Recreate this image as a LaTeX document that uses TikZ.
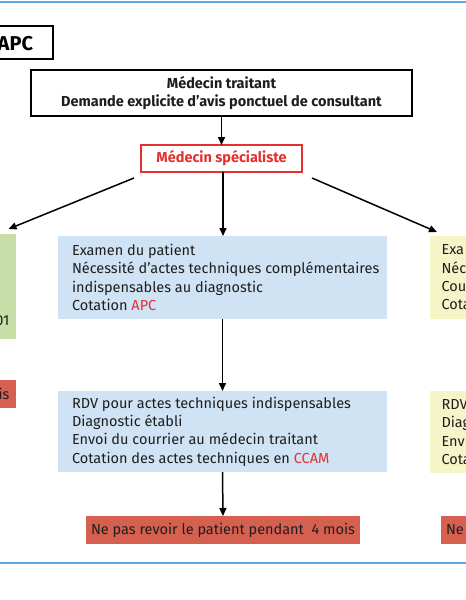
\documentclass[tikz,border=0pt]{standalone}
\usepackage{fontspec}
\setmainfont{Fira Sans}
\usetikzlibrary{arrows.meta,calc}
\definecolor{txt}{RGB}{30,30,30}
\definecolor{redtxt}{RGB}{228,48,48}
\definecolor{bluefill}{RGB}{207,227,245}
\definecolor{greenfill}{RGB}{200,222,168}
\definecolor{yellowfill}{RGB}{245,245,200}
\definecolor{redfill}{RGB}{213,96,80}
\definecolor{rule}{RGB}{100,165,230}
\tikzset{
  base/.style={inner sep=0pt, outer sep=0pt, text=txt, font=\fontsize{14.5}{18.3}\selectfont},
  blackbox/.style={base, draw=black, line width=1.6pt, font=\bfseries\fontsize{14.5}{18}\selectfont, align=center},
  redbox/.style={base, draw=redtxt, line width=1.6pt, text=redtxt, font=\bfseries\fontsize{14.5}{18}\selectfont},
  infobox/.style={base, align=left, inner xsep=14pt},
  arr/.style={line width=1.5pt, -{Triangle[length=8pt,width=7pt]}}
}
\begin{document}
\begin{tikzpicture}[x=1pt,y=-1pt]
\useasboundingbox (0,0) rectangle (466,600);
\fill[white] (0,0) rectangle (466,600);
% rules
\draw[rule, line width=2pt] (0,2) -- (466,2);
\draw[rule, line width=2pt] (0,562.5) -- (466,562.5);
% APC box
\node[blackbox, minimum width=60pt, minimum height=33pt] (apc) at (23,42.5) {};
\node[base, anchor=base east, font=\bfseries\fontsize{20}{22}\selectfont, text=black] (apct) at (33,50.5) {APC};
% top box
\node[blackbox, minimum width=381pt, minimum height=46pt] (mt) at (221.5,93)
  {Médecin traitant\\Demande explicite d’avis ponctuel de consultant};
% specialist
\node[redbox, minimum width=161pt, minimum height=27pt] (spec) at (221.5,158.5) {Médecin spécialiste};
% center column
\node[base, fill=bluefill, minimum width=329pt, minimum height=83pt] (b1) at (222.5,277.5) {};
\node[infobox, anchor=west] (b1t) at (b1.west)
  {Examen du patient\\Nécessité d’actes techniques complémentaires\\indispensables au diagnostic\\Cotation {\color{redtxt}APC}};
\node[base, fill=bluefill, minimum width=329pt, minimum height=81pt] (b2) at (222.5,431.5) {};
\node[infobox, anchor=west] (b2t) at (b2.west)
  {RDV pour actes techniques indispensables\\Diagnostic établi\\Envoi du courrier au médecin traitant\\Cotation des actes techniques en {\color{redtxt}CCAM}};
\node[base, fill=redfill, minimum width=274pt, minimum height=28pt] (r1) at (223,530)
  {Ne pas revoir le patient pendant\ \ 4 mois};
% left column (cropped)
\node[base, fill=greenfill, minimum width=25pt, minimum height=105pt] (g1) at (3,286.5) {};
\node[base, anchor=base east] (g1t) at (9.5,325) {01};
\node[base, fill=redfill, minimum width=25pt, minimum height=28pt] (lr) at (3,394) {};
\node[base, anchor=base east] (lrt) at (9.5,399) {is};
% right column (cropped)
\node[base, fill=yellowfill, minimum width=46pt, minimum height=83pt] (y1) at (453,277.5) {};
\node[base, anchor=west, align=left] (y1t) at (441.5,277.5) {Exa\\Néc\\Cou\\Cota};
\node[base, fill=yellowfill, minimum width=46pt, minimum height=82pt] (y2) at (453,432) {};
\node[base, anchor=west, align=left] (y2t) at (441.5,432) {RDV\\Diag\\Env\\Cota};
\node[base, fill=redfill, minimum width=35pt, minimum height=28pt] (rr) at (458.5,530) {};
\node[base, anchor=west] (rrt) at (446,530) {Ne};
% arrows
\draw[arr] (mt.south) -- (spec.north);
\draw[arr] ([xshift=1.5pt]spec.south) -- ([xshift=0.5pt]b1.north);
\draw[arr] ($(spec.south west)+(-7,6)$) -- ($(g1.north east)+(-7,-5)$);
\draw[arr] ($(spec.south east)+(10,6)$) -- ($(y1.north west)+(7,-4)$);
\draw[arr] (b1.south) -- (b2.north);
\draw[arr] (b2.south) -- (r1.north);
\end{tikzpicture}
\end{document}
